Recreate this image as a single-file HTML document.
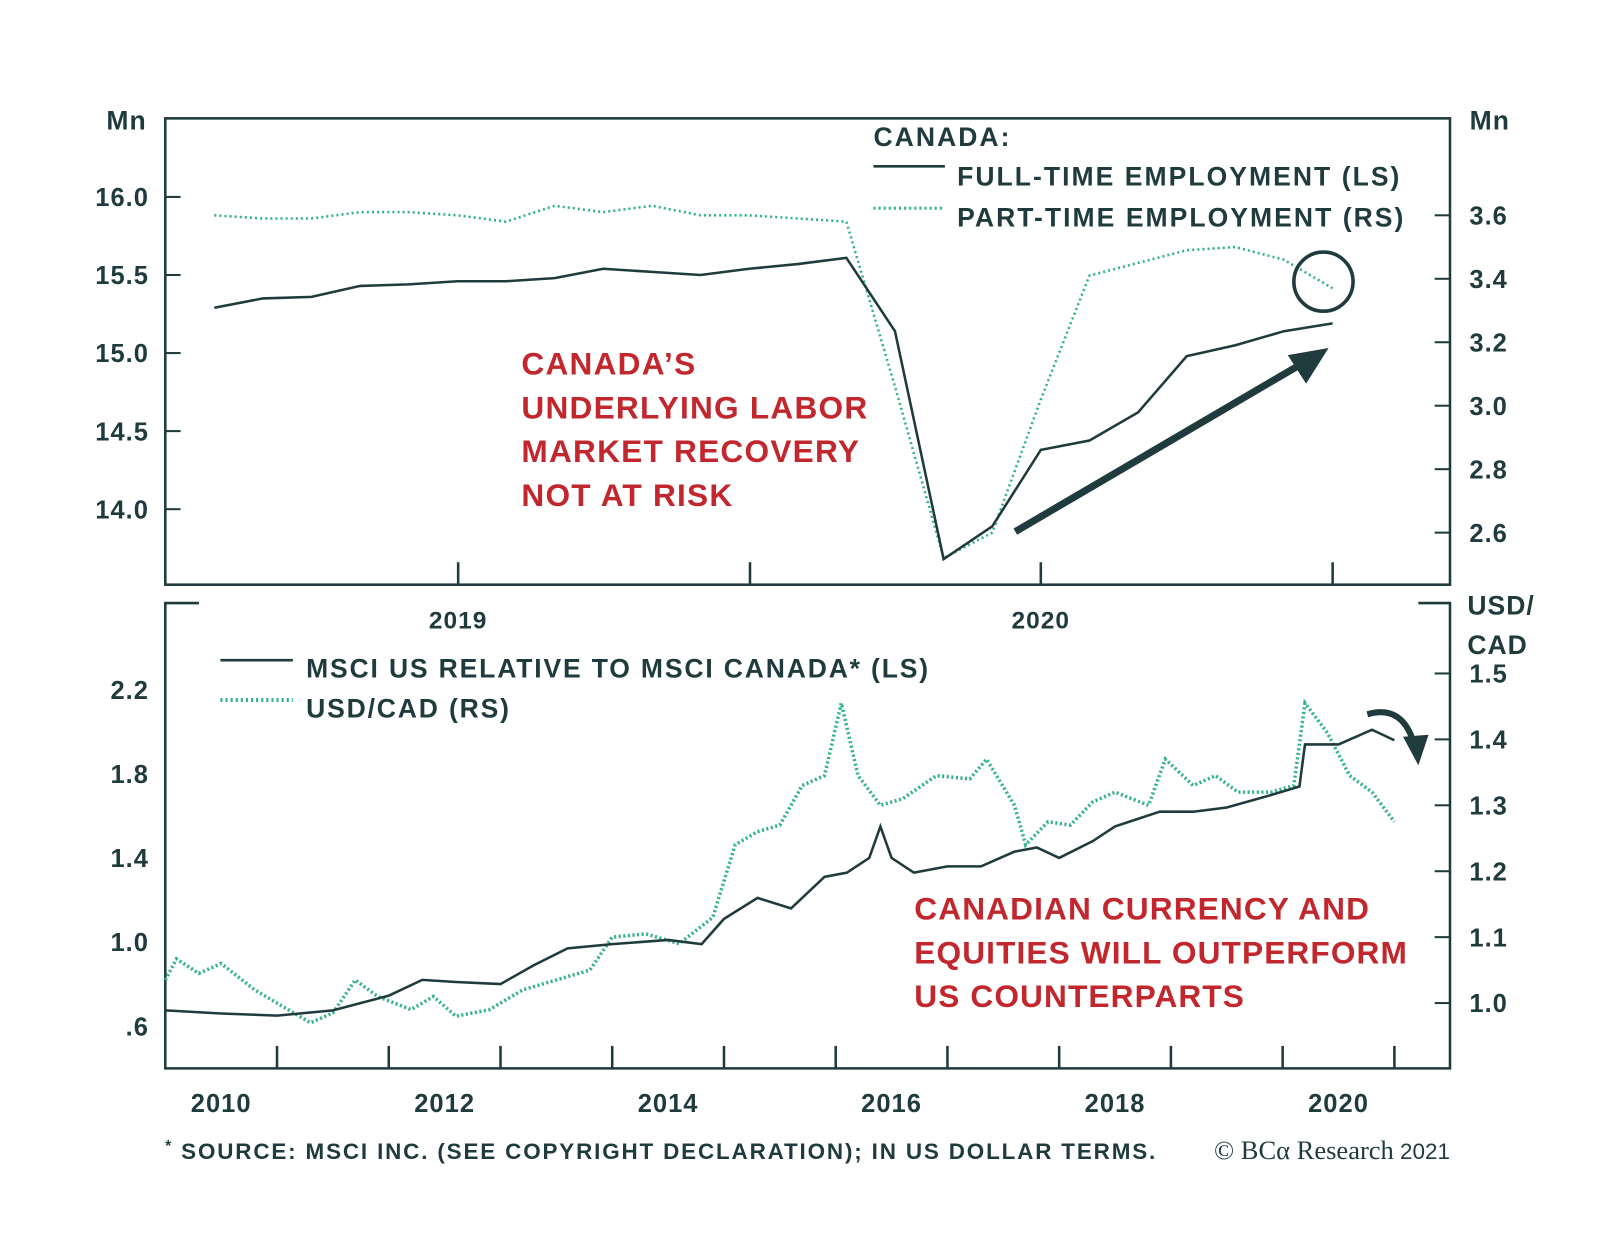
<!DOCTYPE html>
<html><head><meta charset="utf-8"><style>
body{margin:0;background:#fff;}
svg{display:block;font-family:"Liberation Sans",sans-serif;font-weight:bold;}
</style></head><body>
<svg id="c" width="1600" height="1258" viewBox="0 0 1600 1258">
<g id="g" transform="scale(1.0204)"></g>
</svg>
<script>
// Top panel data (monthly index)
const topMonths=[0,1,2,3,4,5,6,7,8,9,10,11,12,13,14,15,16,17,18,19,20,21,22,23];
const fullTime=[15.29,15.35,15.36,15.43,15.44,15.46,15.46,15.48,15.54,15.52,15.50,15.54,15.57,15.61,15.14,13.68,13.89,14.38,14.44,14.62,14.98,15.05,15.14,15.19];
const partTime=[3.60,3.59,3.59,3.61,3.61,3.60,3.58,3.63,3.61,3.63,3.60,3.60,3.59,3.58,3.06,2.52,2.60,3.02,3.41,3.45,3.49,3.50,3.46,3.37];
const topLeftTicks=[16.0,15.5,15.0,14.5,14.0];
const topRightTicks=[3.6,3.4,3.2,3.0,2.8,2.6];
// Bottom panel data
const botTimes=[2010.0,2010.5,2011.0,2011.5,2012.0,2012.3,2012.6,2013.0,2013.3,2013.6,2014.0,2014.5,2014.8,2015.0,2015.3,2015.6,2015.9,2016.1,2016.3,2016.4,2016.5,2016.7,2017.0,2017.3,2017.6,2017.8,2018.0,2018.3,2018.5,2018.9,2019.2,2019.5,2019.9,2020.15,2020.2,2020.5,2020.8,2021.0];
const msciRel=[0.675,0.66,0.65,0.675,0.745,0.82,0.81,0.80,0.89,0.97,0.99,1.01,0.99,1.11,1.21,1.16,1.31,1.33,1.40,1.55,1.40,1.33,1.36,1.36,1.43,1.45,1.40,1.48,1.55,1.62,1.62,1.64,1.70,1.74,1.94,1.94,2.01,1.96];
const fxTimes=[2010.0,2010.1,2010.3,2010.5,2010.8,2011.0,2011.3,2011.5,2011.7,2011.9,2012.2,2012.4,2012.6,2012.9,2013.2,2013.5,2013.8,2014.0,2014.3,2014.6,2014.9,2015.1,2015.3,2015.5,2015.7,2015.9,2016.05,2016.2,2016.4,2016.6,2016.9,2017.2,2017.35,2017.6,2017.7,2017.9,2018.1,2018.3,2018.5,2018.8,2018.95,2019.2,2019.4,2019.6,2019.9,2020.1,2020.2,2020.4,2020.6,2020.8,2021.0];
const usdCad=[1.035,1.067,1.045,1.06,1.02,1.0,0.97,0.985,1.035,1.01,0.99,1.01,0.98,0.99,1.02,1.035,1.05,1.10,1.105,1.09,1.13,1.24,1.26,1.27,1.33,1.345,1.455,1.345,1.30,1.31,1.345,1.34,1.37,1.30,1.24,1.275,1.27,1.305,1.32,1.30,1.37,1.33,1.345,1.32,1.32,1.33,1.455,1.41,1.345,1.32,1.275];
const botLeftTicks=[2.2,1.8,1.4,1.0,0.6];
const botLeftLabels=["2.2","1.8","1.4","1.0",".6"];
const botRightTicks=[1.5,1.4,1.3,1.2,1.1,1.0];
const yearLabels=[2010,2012,2014,2016,2018,2020];

const DARK="#1f3b3d",GREEN="#2db386",RED="#c1272d";
const g=document.getElementById('g');
const NS="http://www.w3.org/2000/svg";
function el(tag,attrs,name,parent){const e=document.createElementNS(NS,tag);for(const k in attrs)e.setAttribute(k,attrs[k]);


(parent||g).appendChild(e);return e;}
function txt(x,y,s,size,fill,anchor,name,ls){const t=el('text',{x:x,y:y,'font-size':size,fill:fill,'text-anchor':anchor||'start','letter-spacing':ls||0},name);t.textContent=s;return t;}

const tx=m=>210+m*47.65;
const tyL=v=>193+(16.0-v)*153;
const tyR=v=>211+(3.6-v)*311;
const bx=t=>162+(t-2010)*109.5;
const byL=v=>676+(2.2-v)*206;
const byR=v=>660+(1.5-v)*646;

el('rect',{x:162,y:116,width:1259,height:457,fill:'none',stroke:DARK,'stroke-width':2.5},'top-panel-frame');
el('path',{d:'M195,591 H162 V1047 H1421 V591 H1390',fill:'none',stroke:DARK,'stroke-width':2.5},'bottom-panel-frame');

topLeftTicks.forEach(v=>{const y=tyL(v);el('line',{x1:162,x2:177,y1:y,y2:y,stroke:DARK,'stroke-width':2},'top-left-tick');txt(146,y+9,v.toFixed(1),25,DARK,'end','top-left-tick-label',1);});
topRightTicks.forEach(v=>{const y=tyR(v);el('line',{x1:1406,x2:1421,y1:y,y2:y,stroke:DARK,'stroke-width':2},'top-right-tick');txt(1440,y+9,v.toFixed(1),25,DARK,'start','top-right-tick-label',1);});
[449,735,1020,1306].forEach(x=>el('line',{x1:x,x2:x,y1:551,y2:573,stroke:DARK,'stroke-width':2.5},'top-x-tick'));
txt(449,616,'2019',24,DARK,'middle','top-x-label-2019',1);
txt(1020,616,'2020',24,DARK,'middle','top-x-label-2020',1);
txt(124,127,'Mn',26,DARK,'middle','top-left-unit',1);
txt(1460,127,'Mn',26,DARK,'middle','top-right-unit',1);

el('polyline',{points:partTime.map((v,i)=>tx(topMonths[i])+','+tyR(v)).join(' '),fill:'none',stroke:GREEN,'stroke-width':2.5,'stroke-dasharray':'2 3'},'part-time-line');
el('polyline',{points:fullTime.map((v,i)=>tx(topMonths[i])+','+tyL(v)).join(' '),fill:'none',stroke:DARK,'stroke-width':2.5},'full-time-line');

txt(856,143,'CANADA:',26,DARK,'start','legend-title',2);
el('line',{x1:856,x2:926,y1:163,y2:163,stroke:DARK,'stroke-width':2.5},'legend-full-time-swatch');
txt(938,182,'FULL-TIME EMPLOYMENT (LS)',26,DARK,'start','legend-full-time',2);
el('line',{x1:856,x2:926,y1:204,y2:204,stroke:GREEN,'stroke-width':3,'stroke-dasharray':'2 3'},'legend-part-time-swatch');
txt(938,222,'PART-TIME EMPLOYMENT (RS)',26,DARK,'start','legend-part-time',2);

['CANADA\u2019S','UNDERLYING LABOR','MARKET RECOVERY','NOT AT RISK'].forEach((s,i)=>txt(511,367+i*43,s,31,RED,'start','top-annotation-line',1.2));
el('circle',{cx:1297,cy:276,r:29,fill:'none',stroke:DARK,'stroke-width':3.5},'highlight-circle');
el('line',{x1:995,y1:521,x2:1280,y2:354,stroke:DARK,'stroke-width':7},'up-arrow-shaft');
el('polygon',{points:'1302,341 1262,348 1280,376',fill:DARK},'up-arrow-head');

botLeftTicks.forEach((v,i)=>{const y=byL(v);txt(146,y+9,botLeftLabels[i],25,DARK,'end','bottom-left-tick-label',1);});
botRightTicks.forEach(v=>{const y=byR(v);el('line',{x1:1406,x2:1421,y1:y,y2:y,stroke:DARK,'stroke-width':2},'bottom-right-tick');txt(1440,y+9,v.toFixed(1),25,DARK,'start','bottom-right-tick-label',1);});
for(let yr=2011;yr<=2021;yr++){const x=bx(yr);el('line',{x1:x,x2:x,y1:1025,y2:1047,stroke:DARK,'stroke-width':2.5},'bottom-x-tick');}
yearLabels.forEach(yr=>txt(bx(yr+0.5),1090,String(yr),25,DARK,'middle','bottom-x-label',1));
txt(1438,602,'USD/',26,DARK,'start','bottom-right-unit-1',1);
txt(1438,641,'CAD',26,DARK,'start','bottom-right-unit-2',1);

el('polyline',{points:usdCad.map((v,i)=>bx(fxTimes[i])+','+byR(v)).join(' '),fill:'none',stroke:GREEN,'stroke-width':3.5,'stroke-dasharray':'2 2.5'},'usd-cad-line');
el('polyline',{points:msciRel.map((v,i)=>bx(botTimes[i])+','+byL(v)).join(' '),fill:'none',stroke:DARK,'stroke-width':2.5},'msci-relative-line');

el('line',{x1:216,x2:287,y1:647,y2:647,stroke:DARK,'stroke-width':2.5},'legend-msci-swatch');
txt(300,664,'MSCI US RELATIVE TO MSCI CANADA* (LS)',26,DARK,'start','legend-msci',1.8);
el('line',{x1:216,x2:287,y1:686,y2:686,stroke:GREEN,'stroke-width':4,'stroke-dasharray':'2 3'},'legend-usdcad-swatch');
txt(300,703,'USD/CAD (RS)',26,DARK,'start','legend-usdcad',1.8);

['CANADIAN CURRENCY AND','EQUITIES WILL OUTPERFORM','US COUNTERPARTS'].forEach((s,i)=>txt(896,901+i*43,s,31,RED,'start','bottom-annotation-line',1.1));
el('path',{d:'M1340,700 Q1375,690 1386,730',fill:'none',stroke:DARK,'stroke-width':6},'down-arrow-curve');
el('polygon',{points:'1375,722 1400,720 1390,750',fill:DARK},'down-arrow-head');

const f=txt(162,1136,'',22,DARK,'start','source-footnote',1.8);
f.innerHTML='<tspan font-size="15" dy="-8">*</tspan><tspan dy="8"> SOURCE: MSCI INC. (SEE COPYRIGHT DECLARATION); IN US DOLLAR TERMS.</tspan>';
const c=txt(1421,1136,'',26,DARK,'end','copyright');
c.innerHTML='<tspan font-family="Liberation Serif" font-weight="normal">\u00a9 BC\u03b1 Research</tspan><tspan font-size="22" font-weight="normal"> 2021</tspan>';
</script>
</body></html>
